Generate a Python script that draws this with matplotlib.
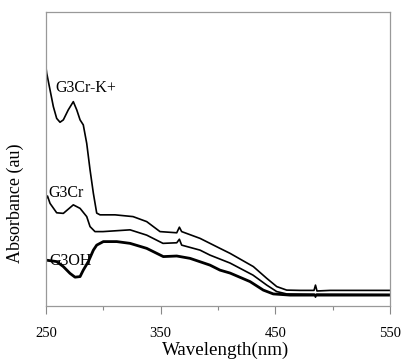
import matplotlib
matplotlib.use("Agg")
import matplotlib.pyplot as plt
from matplotlib.ticker import FixedLocator

plt.rcParams['font.family'] = ['Liberation Serif', 'DejaVu Serif']

# G3Cr-K+ spectrum
wl_k = [250, 250.6, 253.5, 256.4, 259.3, 262.2, 265.1, 269.4, 273.8, 276.8,
        279.7, 282.5, 285.5, 288.4, 291.3, 294.2, 297.1, 310.2, 325.9, 337.8,
        349.4, 364.0, 366.3, 368.3, 384.3, 401.7, 410.5, 430.8, 442.5, 451.2,
        459.9, 471.5, 483.7, 485.0, 486.3, 497.7, 550]
abs_k = [0.810, 0.792, 0.735, 0.678, 0.638, 0.625, 0.633, 0.667, 0.695, 0.667,
         0.633, 0.616, 0.553, 0.463, 0.383, 0.316, 0.310, 0.310, 0.304, 0.287,
         0.253, 0.249, 0.268, 0.253, 0.230, 0.196, 0.179, 0.134, 0.094, 0.066,
         0.054, 0.053, 0.053, 0.071, 0.051, 0.053, 0.053]

# G3Cr spectrum
wl_cr = [250, 251.3, 253.5, 259.3, 265.1, 273.8, 279.7, 285.5, 288.4, 292.7,
         299.7, 323.3, 337.8, 352.0, 364.0, 366.3, 368.3, 384.3, 393.0, 410.5,
         430.5, 442.5, 451.2, 459.9, 484.0, 485.0, 486.0, 550]
abs_cr = [0.364, 0.374, 0.349, 0.317, 0.315, 0.344, 0.332, 0.304, 0.270, 0.253,
          0.253, 0.259, 0.241, 0.213, 0.215, 0.227, 0.207, 0.190, 0.173, 0.146,
          0.105, 0.071, 0.049, 0.041, 0.040, 0.030, 0.040, 0.039]

# G3OH spectrum
wl_oh = [250, 259.3, 265.1, 270.9, 275.3, 279.7, 282.5, 286.9, 291.3, 294.2,
         300.0, 311.7, 323.3, 337.8, 352.3, 364.0, 375.6, 393.0, 401.7, 410.5,
         427.9, 439.5, 448.2, 462.8, 550]
abs_oh = [0.156, 0.151, 0.134, 0.111, 0.098, 0.100, 0.122, 0.151, 0.190, 0.207,
          0.219, 0.219, 0.213, 0.196, 0.168, 0.170, 0.162, 0.139, 0.122, 0.112,
          0.083, 0.054, 0.041, 0.037, 0.037]

major_ticks = [250, 350, 450, 550]
minor_ticks = [300, 400, 500]

fig = plt.figure(figsize=(4.04, 3.61), dpi=100)
ax = fig.add_axes([0.1139, 0.1524, 0.8515, 0.8144])

ax.plot(wl_k, abs_k, color='black', lw=1.2)
ax.plot(wl_cr, abs_cr, color='black', lw=1.2)
ax.plot(wl_oh, abs_oh, color='black', lw=2.0)

ax.text(258, 0.740, 'G3Cr-K+', fontsize=11.5, va='center', ha='left')
ax.text(252, 0.385, 'G3Cr', fontsize=11.5, va='center', ha='left')
ax.text(253, 0.152, 'G3OH', fontsize=11.5, va='center', ha='left')

ax.set_xlim(250, 550)
ax.set_ylim(0, 1)
ax.xaxis.set_major_locator(FixedLocator(major_ticks))
ax.xaxis.set_minor_locator(FixedLocator(minor_ticks))
ax.set_yticks([])
ax.tick_params(axis='x', which='major', direction='out', length=6, width=0.8,
               color='#888888', labelsize=10.5, pad=9)
ax.tick_params(axis='x', which='minor', direction='out', length=3, width=0.8,
               color='#888888')
for sp in ax.spines.values():
    sp.set_color('#999999')
    sp.set_linewidth(0.9)

ax.set_xlabel('Wavelength(nm)', fontsize=13.7)
ax.set_ylabel('Absorbance (au)', fontsize=13)
ax.xaxis.set_label_coords(0.523, -0.12)
ax.yaxis.set_label_coords(-0.064, 0.35)

fig.savefig('out.png', dpi=100)
